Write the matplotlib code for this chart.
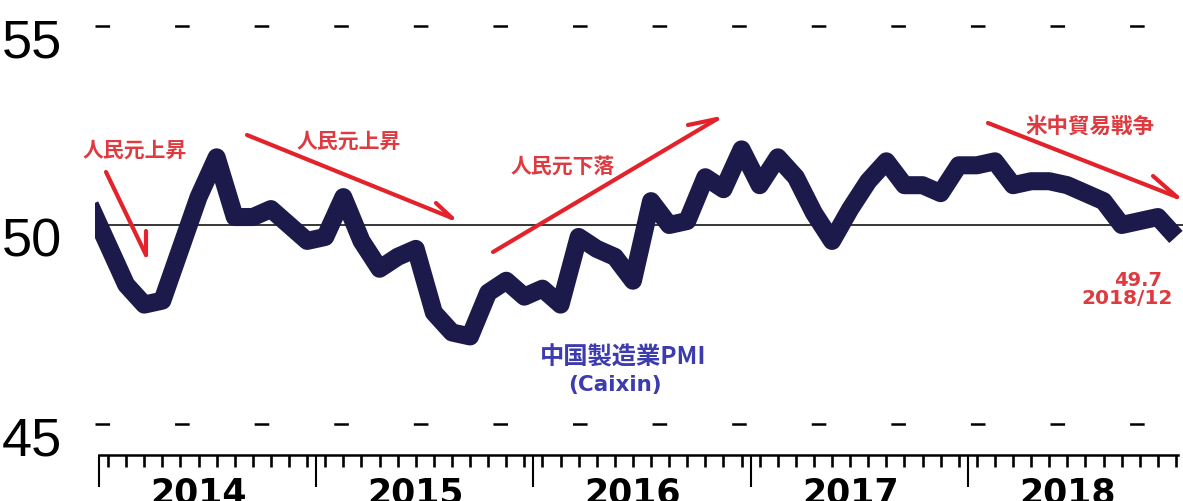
import numpy as np
import matplotlib
matplotlib.use("Agg")
import matplotlib.pyplot as plt
from matplotlib.transforms import ScaledTranslation

# Caixin China manufacturing PMI, Dec 2013 .. Dec 2018
pmi_2013 = [50.5]
pmi_2014 = [49.5, 48.5, 48.0, 48.1, 49.4, 50.7, 51.7, 50.2, 50.2, 50.4, 50.0, 49.6]
pmi_2015 = [49.7, 50.7, 49.6, 48.9, 49.2, 49.4, 47.8, 47.3, 47.2, 48.3, 48.6, 48.2]
pmi_2016 = [48.4, 48.0, 49.7, 49.4, 49.2, 48.6, 50.6, 50.0, 50.1, 51.2, 50.9, 51.9]
pmi_2017 = [51.0, 51.7, 51.2, 50.3, 49.6, 50.4, 51.1, 51.6, 51.0, 51.0, 50.8, 51.5]
pmi_2018 = [51.5, 51.6, 51.0, 51.1, 51.1, 51.0, 50.8, 50.6, 50.0, 50.1, 50.2, 49.7]
years = ["2014", "2015", "2016", "2017", "2018"]
y_ticks = [45, 50, 55]

pmi = pmi_2013 + pmi_2014 + pmi_2015 + pmi_2016 + pmi_2017 + pmi_2018
months = np.arange(-1, len(pmi) - 1) + 0.5   # points sit mid-month

W, H = 1183, 501
NAVY = "#1b1a4a"
RED = "#e3222b"
TRED = "#de3a3f"
BLUE = "#3c3cae"
CJK = ["Noto Sans CJK JP", "DejaVu Sans"]

plt.rcParams["lines.scale_dashes"] = False

def px(x, y):
    # image pixel (top-left origin) -> figure fraction
    return (x / W, 1 - y / H)

fig = plt.figure(figsize=(W / 100, H / 100), dpi=100)
# axes: left edge at px 95, bottom spine at px 455
ax = fig.add_axes([95 / W, (H - 455) / H, 1 - 95 / W, 455 / H])
mpx = 18.1    # pixels per month
upx = 39.8    # pixels per PMI point
ax.set_xlim((95 - 99) / mpx, (W - 99) / mpx)
ax.set_ylim(50 - (455 - 225) / upx, 50 + 225 / upx)

# reference lines
ax.axhline(50, color="black", lw=1.1, zorder=1)
for v in (55, 45):
    ax.axhline(v, color="black", lw=1.8, ls=(0, (10.5, 46.8)), zorder=1)

ax.plot(months, pmi, color=NAVY, lw=13, solid_joinstyle="round",
        solid_capstyle="butt", zorder=3)

# axes styling
for s in ("top", "right", "left"):
    ax.spines[s].set_visible(False)
ax.spines["bottom"].set_linewidth(1.8)
ax.spines["bottom"].set_bounds(0, 59.6)
ax.set_xticks([0, 12, 24, 36, 48])
ax.set_xticks(np.arange(60) + 0.5, minor=True)
ax.tick_params(axis="x", which="major", length=23, width=1.5, labelbottom=False)
ax.tick_params(axis="x", which="minor", length=8.5, width=1.9, labelbottom=False)

ax.set_yticks(y_ticks)
ax.set_yticklabels([str(t) for t in y_ticks], family="Liberation Sans", fontsize=39)
ax.tick_params(axis="y", length=0, pad=24)
off = ScaledTranslation(0, -12 / 100, fig.dpi_scale_trans)
for lab in ax.get_yticklabels():
    lab.set_transform(lab.get_transform() + off)

# year labels under each year block (cut off at the figure bottom)
for i, yr in enumerate(years):
    ax.text(i * 12 + 5.5, -(476 - 455) / 455, yr, transform=ax.get_xaxis_transform(),
            ha="center", va="top", fontsize=25, fontweight="bold", color="black")

# red arrows (shaft + one barb)
arrows = [
    ((106, 172), (146, 255), (146, 231)),
    ((247, 135), (452, 218), (436, 203)),
    ((493, 252), (717, 119), (688, 125)),
    ((988, 123), (1177, 197), (1153, 176)),
]
for start, tip, barb in arrows:
    ax.annotate("", xy=px(*tip), xytext=px(*start), xycoords="figure fraction",
                arrowprops=dict(arrowstyle="-", color=RED, lw=3, shrinkA=0, shrinkB=0))
    ax.annotate("", xy=px(*tip), xytext=px(*barb), xycoords="figure fraction",
                arrowprops=dict(arrowstyle="-", color=RED, lw=3, shrinkA=0, shrinkB=0))

notes = [
    ("人民元上昇", (135, 150), 15),
    ("人民元上昇", (349, 141), 15),
    ("人民元下落", (563, 166), 15),
    ("米中貿易戦争", (1090, 126), 15.5),
]
for txt, pos, fs in notes:
    fig.text(*px(*pos), txt, ha="center", va="center", color=TRED,
             fontsize=fs, fontweight="bold", family=CJK)

fig.text(*px(623, 358), "中国製造業PMI", ha="center", va="center", color=BLUE,
         fontsize=17.5, fontweight="bold", family=CJK)
fig.text(*px(615, 385), "(Caixin)", ha="center", va="center", color=BLUE,
         fontsize=15.5, fontweight="bold", family="DejaVu Sans")
fig.text(*px(1138, 281), "49.7", ha="center", va="center", color=TRED,
         fontsize=14, fontweight="bold", family="DejaVu Sans")
fig.text(*px(1127, 298), "2018/12", ha="center", va="center", color=TRED,
         fontsize=14.5, fontweight="bold", family="DejaVu Sans")

fig.savefig("out.png", dpi=100, facecolor="white")
